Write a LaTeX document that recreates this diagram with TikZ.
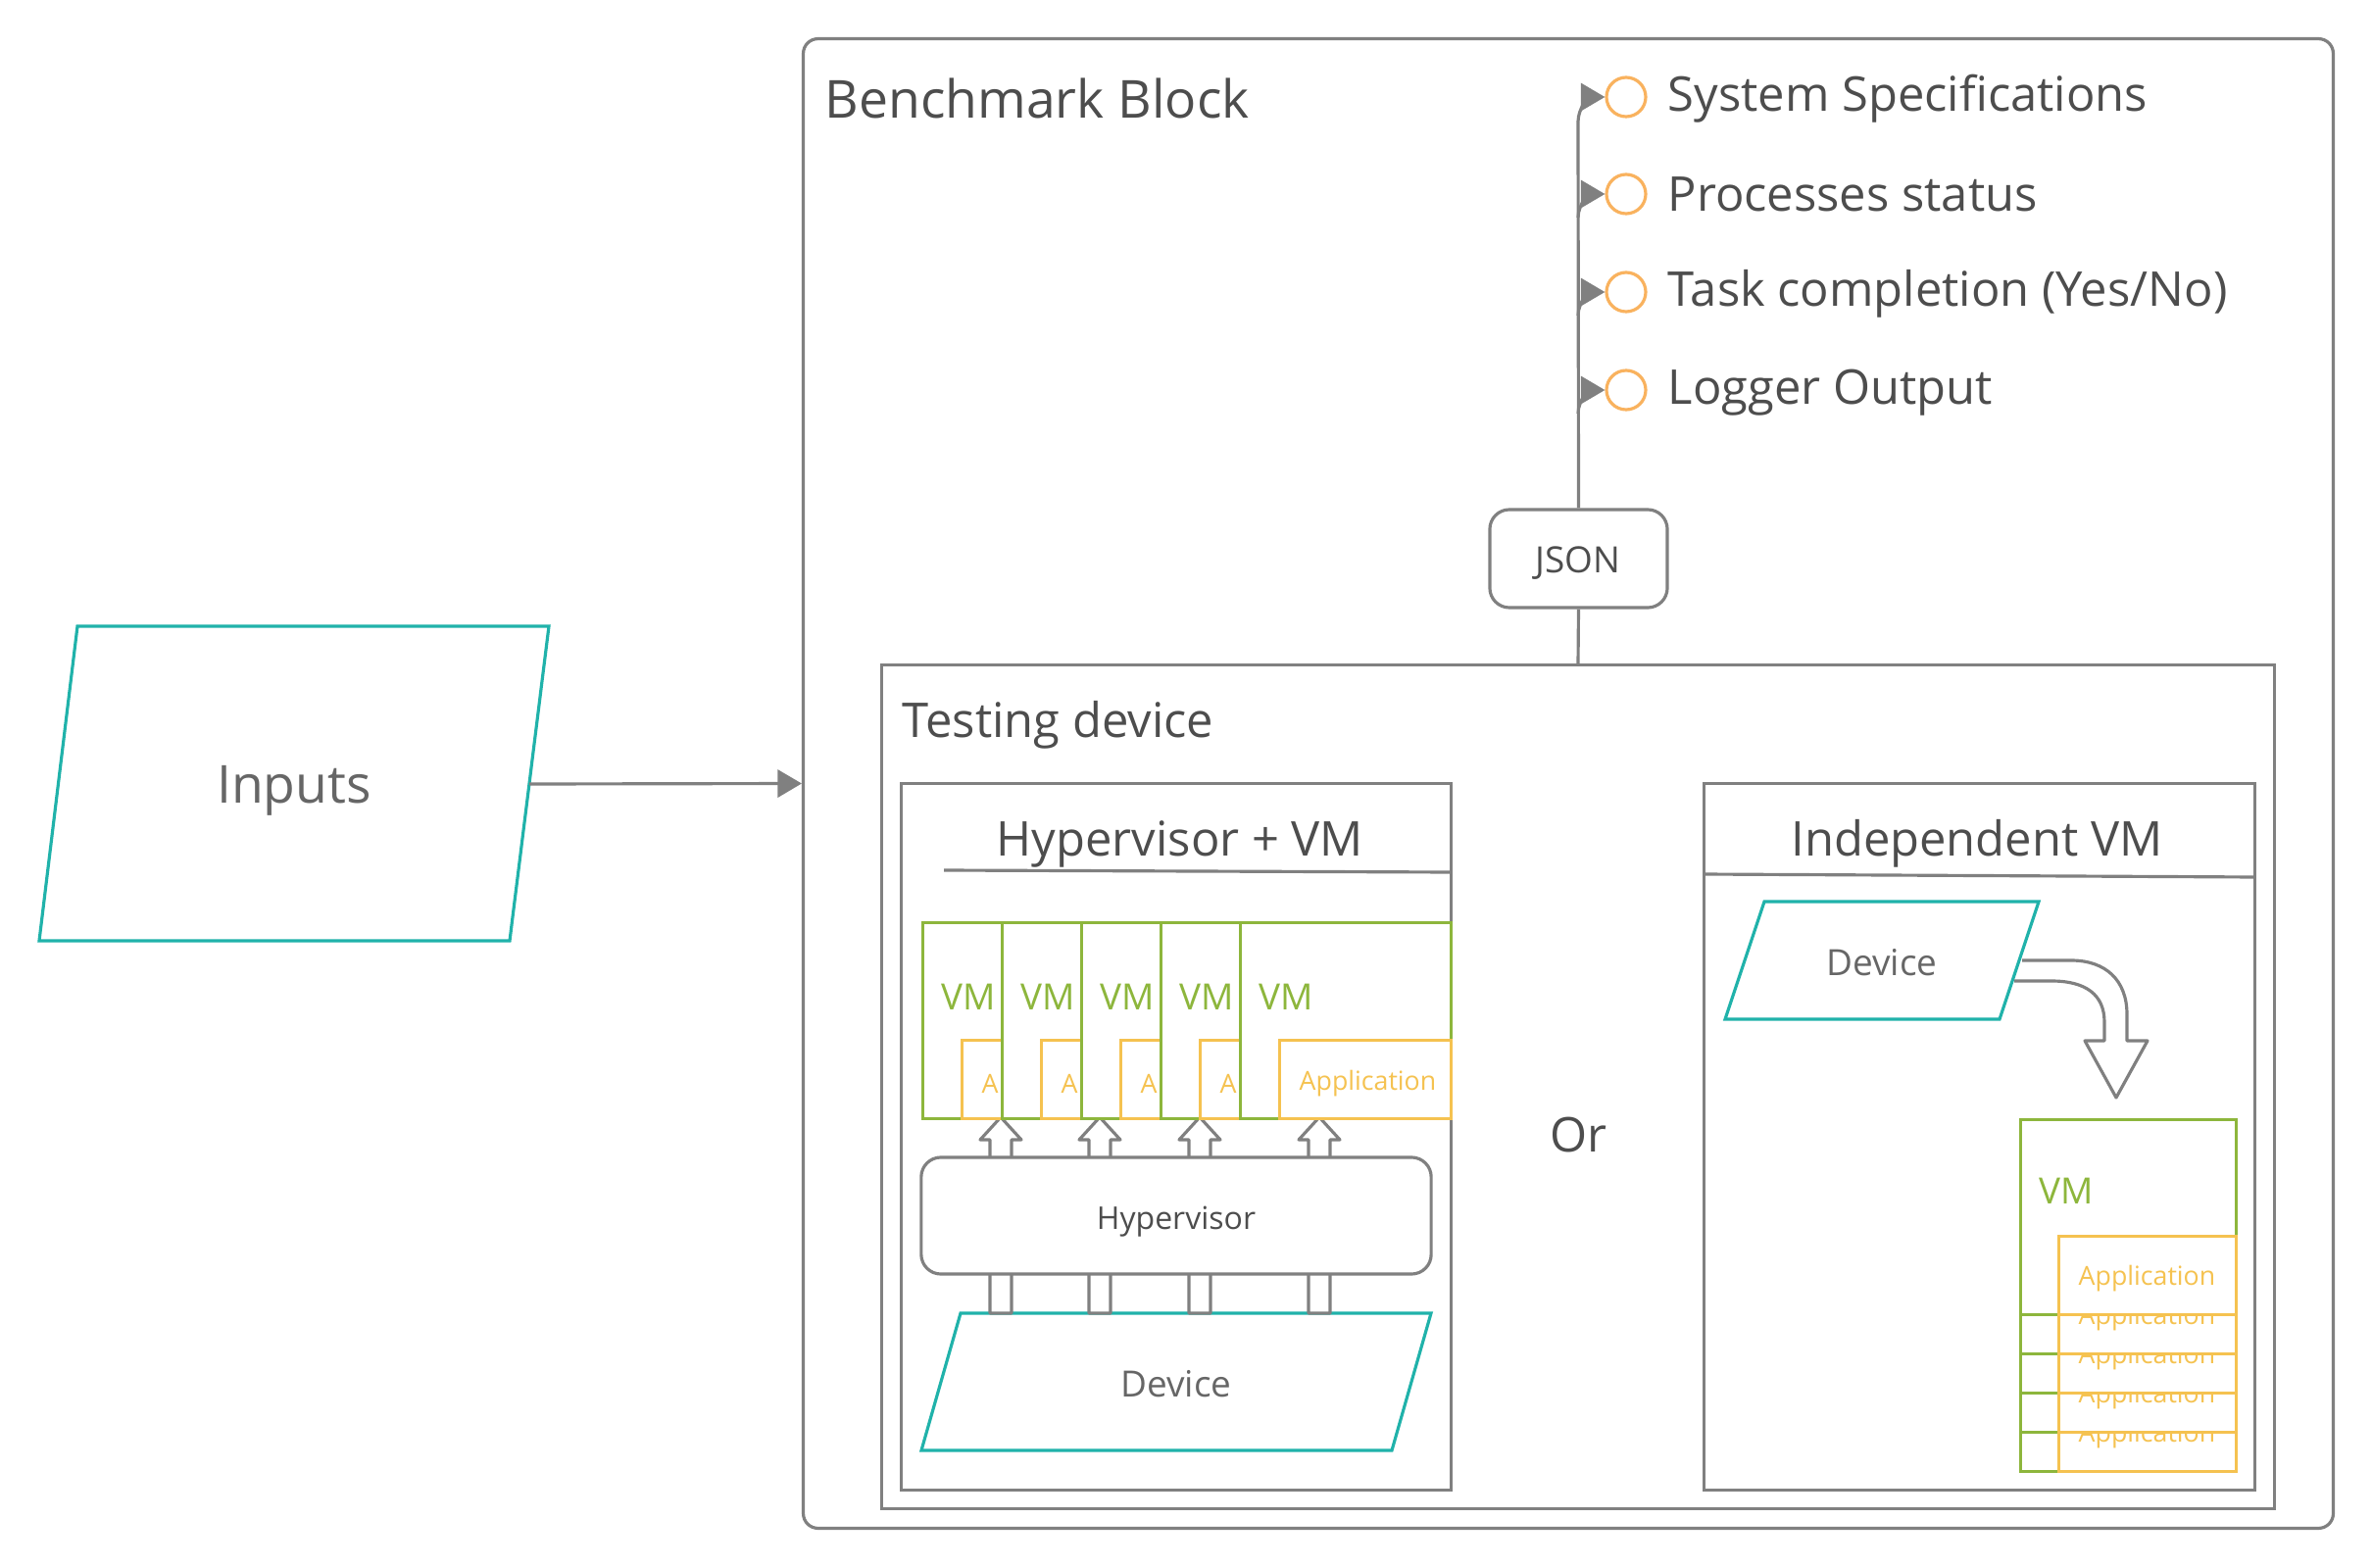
\documentclass[tikz,border=0pt]{standalone}
\usepackage{fontspec}
\setmainfont{Open Sans}
\usetikzlibrary{positioning, shapes.geometric, arrows.meta, calc}

\definecolor{linegray}{HTML}{808080}
\definecolor{txtgray}{HTML}{4D4D4D}
\definecolor{softgray}{HTML}{666666}
\definecolor{devteal}{HTML}{20B2AA}
\definecolor{vmgreen}{HTML}{8DB63C}
\definecolor{appyellow}{HTML}{F5C250}
\definecolor{dotorange}{HTML}{F9B25E}

\tikzset{
  frame/.style={draw=linegray, line width=0.9pt, fill=white, inner sep=0pt},
  devshape/.style={draw=devteal, line width=0.9pt, fill=white},
  devtext/.style={inner sep=0pt, text=softgray, font=\fontsize{10.5}{12.6}\selectfont},
  vmbox/.style={draw=vmgreen, line width=0.9pt, fill=white, inner sep=0pt},
  appbox/.style={draw=appyellow, line width=0.9pt, fill=white, inner sep=0pt},
  dot/.style={circle, draw=dotorange, line width=0.9pt, minimum size=0.4cm, inner sep=0pt},
  bigtext/.style={inner sep=0pt, text=txtgray, font=\fontsize{15.2}{18}\selectfont},
  midtext/.style={inner sep=0pt, text=txtgray, font=\fontsize{13.9}{16.5}\selectfont},
  vmtext/.style={inner sep=0pt, text=vmgreen, font=\fontsize{10.5}{12.6}\selectfont},
  apptext/.style={inner sep=0pt, text=appyellow, font=\fontsize{7.6}{9}\selectfont},
  conn/.style={draw=linegray, line width=0.9pt},
  tip/.style={-{Triangle[length=7pt, width=8pt]}},
  hollow/.style={draw=linegray, line width=0.9pt, fill=white, line join=round}
}

\begin{document}
\begin{tikzpicture}[x=0.01cm, y=-0.01cm]
    \useasboundingbox (0,0) rectangle (2420,1600);
    % outer block
    \node[frame, rounded corners=0.15cm, minimum width=15.6cm, minimum height=15.19cm] (bench) at (1600,799.5) {};
    \node[bigtext, anchor=west] (benchlabel) at (841,100) {Benchmark Block};
    % inputs
    \draw[devshape] (79,639) -- (560,639) -- (520,960) -- (40,960) -- cycle;
    \node[devtext, text=softgray, font=\fontsize{15.2}{18}\selectfont] (inputs) at (300,807) {Inputs};
    \coordinate (inputs-out) at (540,800);
    \draw[conn, tip] (inputs-out) -- (bench.west);
    % testing device
    \node[frame, minimum width=14.2cm, minimum height=8.6cm] (tdev) at (1610,1109) {};
    \node[midtext, anchor=west] (tdevlabel) at (920,740) {Testing device};
    % json and outputs
    \node[frame, rounded corners=0.2cm, minimum width=1.81cm, minimum height=1cm] (json) at (1610.5,570) {};
    \node[inner sep=0pt, text=txtgray, font=\fontsize{10.5}{12.6}\selectfont] (jsonlabel) at (1610,575) {JSON};
    \draw[conn] (tdev.north) -- (json.south);
    \node[dot] (spec) at (1659,99) {};
    \node[dot] (proc) at (1659,198) {};
    \node[dot] (task) at (1659,298) {};
    \node[dot] (logger) at (1659,398) {};
    \node[midtext, anchor=west] (speclabel) at (1701,101) {System Specifications};
    \node[midtext, anchor=west] (proclabel) at (1701,198) {Processes status};
    \node[midtext, anchor=west] (tasklabel) at (1701,300) {Task completion (Yes/No)};
    \node[midtext, anchor=west] (loggerlabel) at (1701,401) {Logger Output};
    \coordinate (trunk) at (1610,124);
    \draw[conn] (json.north) -- (trunk);
    \draw[conn, tip] (trunk) to[out=90, in=180] (spec.west);
    \foreach \d/\y in {proc/198, task/298, logger/398} {
      \coordinate (branch-\d) at (1610,\y+24);
      \draw[conn, tip] (branch-\d) to[out=90, in=180] (\d.west);
    }
    % hypervisor + vm
    \node[frame, minimum width=5.6cm, minimum height=7.2cm] (hvvm) at (1200,1160) {};
    \node[midtext] (hvvmlabel) at (1204,861) {Hypervisor + VM};
    \draw[conn] (963,888) -- (hvvm.east |- 0,890);
    \draw[devshape] (980,1340) -- (1460,1340) -- (1420,1480) -- (940,1480) -- cycle;
    \node[devtext] (hvdev) at (1200,1412) {Device};
    \foreach \x in {1021,1122,1224,1346} {
      \draw[hollow] (\x-11,1340) -- (\x-11,1163) -- (\x-21,1163) -- (\x,1140) -- (\x+21,1163)
        -- (\x+11,1163) -- (\x+11,1340) -- cycle;
    }
    \node[frame, rounded corners=0.2cm, minimum width=5.2cm, minimum height=1.19cm] (hyper) at (1200,1240.5) {};
    \node[inner sep=0pt, text=txtgray, font=\fontsize{9.1}{11}\selectfont] (hyperlabel) at (1200,1247) {Hypervisor};
    \foreach \k/\t in {0/A, 1/A, 2/A, 3/A, 4/Application} {
      \node[vmbox, anchor=north west, minimum width=2.15cm, minimum height=2cm] (vm\k) at ({940+81*\k},940) {};
      \node[appbox, anchor=south east, minimum width=1.75cm, minimum height=0.8cm] (app\k) at (vm\k.south east) {};
      \node[apptext, anchor=west] at ($(app\k.west)+(21,4)$) {\t};
      \node[vmtext, anchor=west] at ({960+81*\k},1017) {VM};
    }
    % independent vm
    \node[frame, minimum width=5.61cm, minimum height=7.2cm] (indep) at (2019.5,1160) {};
    \node[midtext] (indeplabel) at (2017,861) {Independent VM};
    \draw[conn] (indep.west |- 0,892) -- (indep.east |- 0,895);
    \draw[devshape] (1800,920) -- (2080,920) -- (2040,1040) -- (1760,1040) -- cycle;
    \node[devtext] (indepdev) at (1920,982) {Device};
    \draw[hollow, fill=none] (2063,980) -- (2113,980) .. controls (2148,980) and (2170,1000) .. (2170,1035)
      -- (2170,1062) -- (2191,1062) -- (2159,1120) -- (2127,1062) -- (2147,1062) -- (2147,1043)
      .. controls (2147,1015) and (2128,1001) .. (2093,1001) -- (2055,1001);
    \foreach \k in {4,3,...,0} {
      \node[vmbox, anchor=north west, minimum width=2.2cm, minimum height=1.99cm] (rvm\k) at (2060,{1141+40*\k}) {};
      \node[appbox, anchor=south east, minimum width=1.81cm, minimum height=0.8cm] (rapp\k) at (rvm\k.south east) {};
      \node[apptext, anchor=west] at ($(rapp\k.west)+(21,3)$) {Application};
      \node[vmtext, anchor=west] at (2080,{1215+40*\k}) {VM};
    }
    \node[midtext] (orlabel) at (1610,1158) {Or};
\end{tikzpicture}
\end{document}
